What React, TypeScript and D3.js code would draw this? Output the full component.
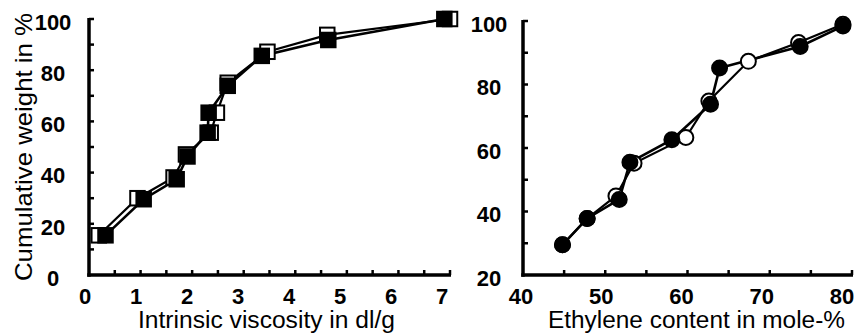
import React from "react";
import * as d3 from "d3";

// Left panel: intrinsic viscosity (dl/g) vs cumulative weight (%)
const viscFilledX = [0.32, 1.06, 1.7, 1.91, 2.3, 2.32, 2.69, 3.35, 4.64, 6.89];
const viscFilledY = [15.5, 29.6, 37.4, 46.3, 55.6, 63.4, 73.9, 85.6, 91.8, 100];
const viscOpenX = [0.19, 0.94, 1.64, 1.88, 2.36, 2.48, 2.69, 3.46, 4.62, 7.0];
const viscOpenY = [15.5, 30.0, 38.1, 47.1, 55.6, 63.4, 75.1, 87.2, 93.8, 100];

// Right panel: ethylene content (mole-%) vs cumulative weight (%)
const ethFilledX = [44.8, 47.8, 51.7, 53.0, 58.1, 62.8, 63.9, 73.7, 78.9];
const ethFilledY = [29.5, 37.8, 43.8, 55.5, 62.6, 73.8, 85.2, 92.0, 98.4];
const ethOpenX = [44.8, 47.8, 51.3, 53.5, 59.8, 62.6, 67.4, 73.5, 78.9];
const ethOpenY = [29.5, 37.8, 44.9, 55.2, 63.3, 74.8, 87.3, 93.2, 99.0];

const leftXTicks = [0, 1, 2, 3, 4, 5, 6, 7];
const leftYTicks = [0, 20, 40, 60, 80, 100];
const rightXTicks = [40, 50, 60, 70, 80];
const rightYTicks = [20, 40, 60, 80, 100];

const leftXTitle = "Intrinsic viscosity in dl/g";
const leftYTitle = "Cumulative weight in %";
const rightXTitle = "Ethylene content in mole-%";

const FONT = "'Liberation Sans', Arial, Helvetica, sans-serif";

function zip(xs: number[], ys: number[]): [number, number][] {
  return xs.map((x, i) => [x, ys[i]]);
}

type PanelProps = {
  x: d3.ScaleLinear<number, number>;
  y: d3.ScaleLinear<number, number>;
  xLabel: d3.ScaleLinear<number, number>;
  xTicks: number[];
  yTicks: number[];
  xMinor: number[];
  yMinor: number[];
  yLabelX: number;
  filled: [number, number][];
  open: [number, number][];
  marker: "square" | "circle";
  xTitle: string;
  xTitleX: number;
  xTitleLen: number;
};

function Panel(p: PanelProps) {
  const line = d3
    .line<[number, number]>()
    .x((d) => p.x(d[0]))
    .y((d) => p.y(d[1]));
  const [x0, x1] = p.x.range();
  const [y0, y1] = p.y.range();
  const axisW = 3.5;
  const size = 14.5;
  const r = 7.5;
  const mark = (d: [number, number], i: number, filled: boolean) =>
    p.marker === "square" ? (
      <rect
        key={i}
        x={p.x(d[0]) - size / 2}
        y={p.y(d[1]) - size / 2}
        width={size}
        height={size}
        fill={filled ? "#000" : "#fff"}
        stroke="#000"
        strokeWidth={2}
      />
    ) : (
      <circle
        key={i}
        cx={p.x(d[0])}
        cy={p.y(d[1])}
        r={r}
        fill={filled ? "#000" : "#fff"}
        stroke="#000"
        strokeWidth={2}
      />
    );
  return (
    <g>
      {/* axes */}
      <line x1={x0} x2={x0} y1={y1 - 1} y2={y0 + axisW / 2} stroke="#000" strokeWidth={axisW} />
      <line x1={x0 - axisW / 2} x2={x1 + 1} y1={y0} y2={y0} stroke="#000" strokeWidth={axisW} />
      {p.yMinor.map((v) => (
        <line key={"ym" + v} x1={x0} x2={x0 + 5} y1={p.y(v)} y2={p.y(v)} stroke="#000" strokeWidth={2.5} />
      ))}
      {p.xMinor.map((v) => (
        <line key={"xm" + v} x1={p.x(v)} x2={p.x(v)} y1={y0} y2={y0 - 5} stroke="#000" strokeWidth={2.5} />
      ))}
      {p.yTicks.map((v) => (
        <text
          key={"yl" + v}
          x={p.yLabelX}
          y={p.y(v) + 5}
          textAnchor="middle"
          dominantBaseline="middle"
          fontFamily={FONT}
          fontWeight="bold"
          fontSize={22}
        >
          {v}
        </text>
      ))}
      {p.xTicks.map((v) => (
        <text
          key={"xl" + v}
          x={p.xLabel(v)}
          y={304}
          textAnchor="middle"
          fontFamily={FONT}
          fontWeight="bold"
          fontSize={22}
        >
          {v}
        </text>
      ))}
      <text
        x={p.xTitleX}
        y={328}
        fontFamily={FONT}
        fontSize={23}
        textLength={p.xTitleLen}
        lengthAdjust="spacingAndGlyphs"
      >
        {p.xTitle}
      </text>
      {/* series */}
      <path d={line(p.open) || ""} fill="none" stroke="#000" strokeWidth={2.2} />
      <path d={line(p.filled) || ""} fill="none" stroke="#000" strokeWidth={2.6} />
      {p.open.map((d, i) => mark(d, i, false))}
      {p.filled.map((d, i) => mark(d, i, true))}
    </g>
  );
}

export default function App() {
  const lx = d3.scaleLinear().domain([0, 7]).range([89, 450]);
  const ly = d3.scaleLinear().domain([0, 100]).range([275, 19]);
  const lxLabel = d3.scaleLinear().domain([0, 7]).range([85, 442]);
  const rx = d3.scaleLinear().domain([40, 80]).range([523, 852]);
  const ry = d3.scaleLinear().domain([20, 100]).range([275, 21]);
  const rxLabel = d3.scaleLinear().domain([40, 80]).range([521, 842]);

  return (
    <svg
      width={860}
      height={333}
      style={{ position: "fixed", left: 0, top: 0, background: "#fff" }}
    >
      <rect width={860} height={333} fill="#fff" />
      <Panel
        x={lx}
        y={ly}
        xLabel={lxLabel}
        xTicks={leftXTicks}
        yTicks={leftYTicks}
        xMinor={d3.range(0.5, 7.01, 0.5)}
        yMinor={d3.range(10, 100.1, 10)}
        yLabelX={53}
        filled={zip(viscFilledX, viscFilledY)}
        open={zip(viscOpenX, viscOpenY)}
        marker="square"
        xTitle={leftXTitle}
        xTitleX={138}
        xTitleLen={257}
      />
      <Panel
        x={rx}
        y={ry}
        xLabel={rxLabel}
        xTicks={rightXTicks}
        yTicks={rightYTicks}
        xMinor={d3.range(45, 80.1, 5)}
        yMinor={d3.range(30, 100.1, 10)}
        yLabelX={489}
        filled={zip(ethFilledX, ethFilledY)}
        open={zip(ethOpenX, ethOpenY)}
        marker="circle"
        xTitle={rightXTitle}
        xTitleX={548}
        xTitleLen={297}
      />
      <text
        transform={`translate(32,147) rotate(-90)`}
        textAnchor="middle"
        fontFamily={FONT}
        fontSize={24}
        textLength={268}
        lengthAdjust="spacingAndGlyphs"
      >
        {leftYTitle}
      </text>
    </svg>
  );
}
